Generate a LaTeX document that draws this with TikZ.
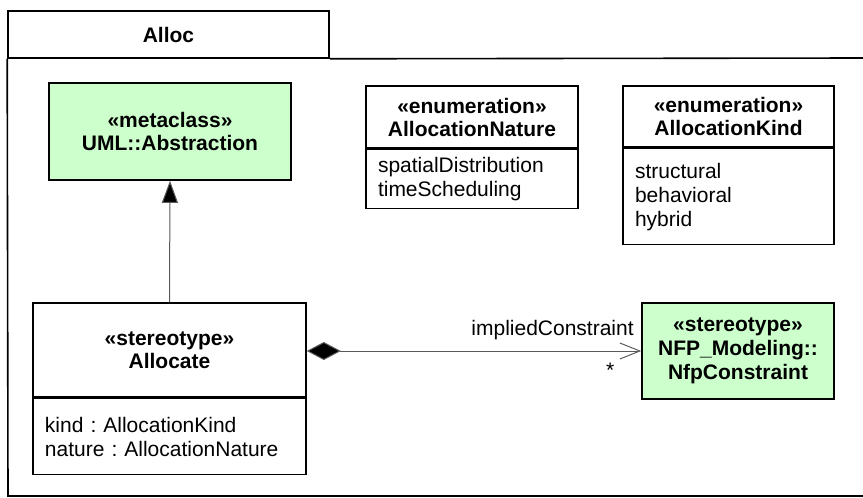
\documentclass[tikz,border=0pt]{standalone}
\usepackage{fontspec}
\setmainfont{Liberation Sans}
\usetikzlibrary{arrows.meta,positioning}
\definecolor{umlgreen}{RGB}{204,255,204}
\definecolor{linegray}{RGB}{90,90,90}
\frenchspacing
\begin{document}
\begin{tikzpicture}[
        x=0.5pt, y=-0.5pt,
        every node/.style={font=\fontsize{10.5}{12}\selectfont},
        frameline/.style={draw=black, line width=0.8pt},
        framelabel/.style={draw=black, line width=0.8pt, inner sep=0pt,
            font=\bfseries\fontsize{10.5}{12}\selectfont},
        classhead/.style={rectangle, draw=black, line width=0.8pt, fill=white,
            align=center, inner sep=0pt,
            font=\bfseries\fontsize{10.5}{11.5}\selectfont},
        stereohead/.style={classhead, fill=umlgreen},
        attrbox/.style={rectangle, draw=black, line width=0.8pt, fill=white,
            align=left, inner xsep=6pt, inner ysep=0pt,
            font=\fontsize{10.5}{12}\selectfont},
        generalization/.style={-{Triangle[length=11pt, width=8pt, fill=black]},
            draw=linegray, line width=0.5pt},
        composition/.style={{Diamond[length=17pt, width=9pt, fill=black]}-{Straight Barb[length=10pt, width=8pt]},
            draw=linegray, line width=0.5pt}
      ]
      \useasboundingbox (0,0) rectangle (863,498);
      % package frame
      \node[framelabel, minimum width=160.5pt, minimum height=23.5pt] (tab) at (168.5,34.5) {Alloc};
      \draw[frameline] (tab.south west) -- (8,496) -- (863,496);
      \draw[frameline] (tab.south east) -- (863,58);
      % classes
      \node[stereohead, minimum width=121pt, minimum height=48.5pt] (abstraction) at (170,131.5)
      {«metaclass»\\UML::Abstraction};
      \node[classhead, minimum width=106pt, minimum height=31pt] (naturehead) at (472,117)
      {«enumeration»\\AllocationNature};
      \node[attrbox, text width=94pt, minimum height=29.5pt, below=0pt of naturehead] (naturebody)
      {spatialDistribution\\timeScheduling};
      \node[classhead, minimum width=105.5pt, minimum height=30.5pt] (kindhead) at (728.5,116.5)
      {«enumeration»\\AllocationKind};
      \node[attrbox, text width=93.5pt, minimum height=48pt, below=0pt of kindhead] (kindbody)
      {structural\\behavioral\\hybrid};
      \node[classhead, minimum width=136.5pt, minimum height=47pt] (allocate) at (169.5,350)
      {«stereotype»\\Allocate};
      \node[attrbox, text width=124.5pt, minimum height=38pt, below=0pt of allocate] (allocatebody)
      {kind : AllocationKind\\nature : AllocationNature};
      \node[stereohead, font=\bfseries\fontsize{10.5}{12}\selectfont,
        minimum width=96pt, minimum height=48pt] (constraint) at (738,351)
      {«stereotype»\\NFP\_Modeling::\\NfpConstraint};
      % connectors
      \draw[generalization] (allocate.north) -- (abstraction.south);
      \draw[composition] (allocate.east |- constraint.west) -- (constraint.west)
        node[pos=1, anchor=base east, inner sep=0pt, xshift=-3.5pt, yshift=8pt] {impliedConstraint}
        node[pos=1, anchor=base, inner sep=0pt, xshift=-15.5pt, yshift=-13pt] {*};
    \end{tikzpicture}
\end{document}
